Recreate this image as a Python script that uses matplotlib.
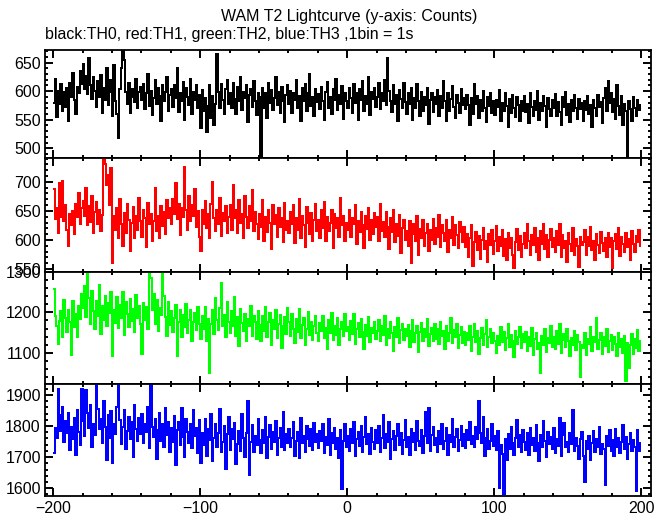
import numpy as np
import matplotlib
matplotlib.use("Agg")
import matplotlib.pyplot as plt
from matplotlib.ticker import MultipleLocator

plt.rcParams['font.family'] = ['Liberation Sans', 'DejaVu Sans']

title = "WAM T2 Lightcurve (y-axis: Counts)"
subtitle = "black:TH0, red:TH1, green:TH2, blue:TH3 ,1bin = 1s"
t_start = -200  # first bin, 1 s per bin

# TH0 (black), counts per 1 s bin (20 bins per row)
th0 = [
    580, 622, 555, 601, 578, 612, 566, 598, 573, 605, 548, 615, 590, 632, 584, 560, 608, 596, 635, 612,
    648, 603, 626, 595, 658, 611, 587, 624, 600, 572, 617, 590, 628, 561, 606, 584, 640, 575, 598, 620,
    556, 645, 582, 560, 518, 603, 640, 672, 655, 598, 578, 615, 562, 603, 590, 581, 622, 570, 598, 607,
    585, 612, 568, 596, 630, 574, 601, 559, 588, 620, 577, 605, 592, 548, 611, 583, 599, 625, 566, 594,
    603, 572, 610, 588, 641, 563, 597, 582, 616, 549, 605, 590, 575, 622, 560, 598, 584, 611, 571, 593,
    536, 602, 565, 588, 528, 574, 610, 553, 592, 541, 578, 665, 598, 570, 612, 585, 560, 603, 620, 577,
    596, 571, 615, 586, 560, 608, 582, 625, 567, 599, 588, 611, 546, 593, 604, 572, 618, 583, 559, 597,
    590, 484, 606, 571, 597, 553, 615, 580, 602, 567, 588, 624, 575, 598, 561, 607, 582, 546, 593, 611,
    578, 601, 562, 596, 585, 619, 570, 592, 548, 605, 583, 612, 566, 597, 630, 574, 589, 556, 603, 581,
    595, 568, 607, 582, 549, 598, 616, 571, 590, 560, 604, 585, 622, 567, 593, 578, 609, 552, 596, 583,
    571, 605, 588, 562, 612, 579, 596, 550, 603, 584, 617, 566, 591, 578, 624, 559, 598, 587, 606, 572,
    589, 614, 568, 597, 583, 620, 575, 658, 601, 582, 563, 610, 577, 594, 547, 602, 586, 570, 615, 581,
    560, 596, 578, 605, 549, 588, 571, 612, 583, 557, 598, 566, 590, 575, 606, 542, 584, 597, 563, 589,
    577, 602, 556, 591, 570, 618, 583, 548, 596, 565, 587, 609, 572, 553, 594, 580, 561, 603, 576, 588,
    569, 594, 575, 540, 588, 560, 612, 578, 592, 553, 585, 566, 600, 571, 546, 589, 574, 597, 562, 583,
    558, 585, 572, 602, 548, 579, 565, 596, 574, 538, 587, 561, 593, 570, 554, 589, 576, 547, 582, 566,
    591, 563, 578, 545, 596, 572, 556, 583, 567, 601, 549, 580, 565, 592, 574, 537, 588, 569, 557, 584,
    570, 595, 556, 581, 564, 540, 589, 573, 598, 559, 577, 546, 584, 566, 593, 571, 552, 587, 568, 579,
    548, 583, 567, 592, 560, 576, 538, 585, 571, 556, 594, 572, 581, 545, 588, 605, 566, 618, 579, 596,
    563, 587, 552, 610, 574, 558, 592, 541, 578, 565, 485, 583, 569, 548, 590, 571, 556, 584, 567, 575,
]

# TH1 (red)
th1 = [
    688, 636, 655, 612, 698, 640, 702, 633, 660, 618, 589, 645, 626, 650, 611, 662, 640, 681, 628, 655,
    667, 642, 690, 625, 658, 631, 675, 612, 648, 666, 627, 652, 615, 643, 738, 730, 694, 712, 660, 723,
    560, 642, 618, 655, 603, 670, 628, 590, 647, 612, 662, 635, 581, 629, 657, 604, 641, 618, 673, 632,
    606, 651, 638, 588, 664, 627, 645, 598, 632, 690, 615, 642, 603, 659, 624, 648, 611, 668, 637, 655,
    627, 671, 644, 698, 636, 662, 609, 655, 640, 725, 652, 618, 675, 633, 660, 641, 688, 623, 650, 606,
    581, 652, 628, 667, 620, 645, 603, 662, 700, 637, 615, 651, 628, 672, 607, 646, 633, 659, 612, 640,
    660, 618, 695, 637, 652, 612, 668, 629, 645, 603, 675, 640, 621, 658, 632, 686, 615, 648, 627, 602,
    645, 623, 668, 598, 639, 614, 652, 630, 585, 661, 627, 643, 606, 655, 622, 638, 596, 664, 617, 633,
    612, 649, 627, 660, 595, 638, 618, 671, 604, 642, 625, 588, 656, 630, 611, 647, 598, 635, 662, 616,
    634, 603, 651, 620, 666, 598, 640, 615, 629, 652, 587, 644, 621, 637, 606, 672, 625, 641, 598, 630,
    618, 652, 605, 638, 627, 661, 594, 633, 614, 648, 626, 587, 642, 619, 655, 600, 634, 611, 646, 623,
    639, 598, 662, 616, 631, 605, 648, 622, 585, 637, 613, 651, 596, 628, 607, 643, 578, 621, 634, 600,
    615, 589, 632, 560, 610, 627, 598, 641, 574, 619, 603, 635, 590, 612, 628, 581, 617, 600, 636, 594,
    621, 606, 643, 588, 625, 612, 598, 634, 579, 617, 603, 640, 592, 625, 608, 586, 631, 614, 597, 622,
    588, 610, 571, 603, 625, 555, 596, 614, 582, 607, 568, 600, 621, 585, 598, 562, 611, 592, 618, 576,
    598, 624, 581, 605, 589, 617, 573, 601, 566, 612, 587, 603, 575, 552, 596, 619, 583, 607, 570, 594,
    612, 586, 628, 598, 575, 609, 592, 621, 580, 603, 566, 615, 594, 627, 585, 608, 571, 600, 619, 588,
    603, 579, 615, 592, 627, 570, 608, 586, 598, 562, 612, 594, 581, 620, 575, 601, 589, 553, 606, 591,
    597, 618, 574, 605, 589, 622, 583, 598, 566, 610, 592, 577, 614, 595, 581, 604, 570, 612, 588, 603,
    552, 598, 611, 585, 620, 573, 606, 594, 579, 612, 588, 601, 565, 615, 593, 580, 607, 596, 618, 589,
]

# TH2 (green)
th2 = [
    1258, 1192, 1165, 1122, 1178, 1203, 1140, 1231, 1186, 1152, 1207, 1175, 1095, 1228, 1164, 1196, 1138, 1215, 1183, 1247,
    1212, 1265, 1188, 1300, 1236, 1171, 1254, 1203, 1158, 1229, 1190, 1268, 1147, 1215, 1180, 1242, 1166, 1224, 1198, 1252,
    1092, 1205, 1173, 1238, 1161, 1219, 1187, 1250, 1144, 1226, 1195, 1164, 1233, 1178, 1208, 1152, 1243, 1186, 1216, 1170,
    1097, 1224, 1182, 1213, 1160, 1300, 1286, 1205, 1247, 1170, 1231, 1154, 1212, 1193, 1300, 1240, 1188, 1142, 1225, 1169,
    1203, 1152, 1187, 1218, 1091, 1176, 1205, 1139, 1194, 1163, 1221, 1148, 1182, 1207, 1130, 1175, 1198, 1157, 1213, 1170,
    1135, 1192, 1160, 1214, 1128, 1183, 1050, 1172, 1205, 1146, 1237, 1180, 1156, 1210, 1272, 1165, 1193, 1139, 1225, 1176,
    1150, 1203, 1167, 1238, 1142, 1188, 1116, 1209, 1173, 1154, 1197, 1128, 1183, 1166, 1215, 1141, 1192, 1175, 1134, 1204,
    1168, 1129, 1190, 1155, 1213, 1140, 1176, 1198, 1120, 1182, 1159, 1205, 1137, 1171, 1193, 1112, 1166, 1188, 1146, 1210,
    1175, 1141, 1196, 1160, 1124, 1183, 1152, 1209, 1136, 1169, 1187, 1118, 1158, 1201, 1143, 1177, 1131, 1166, 1192, 1150,
    1128, 1173, 1155, 1190, 1137, 1162, 1108, 1181, 1149, 1198, 1132, 1167, 1145, 1186, 1120, 1159, 1176, 1141, 1195, 1153,
    1164, 1131, 1178, 1146, 1195, 1122, 1158, 1173, 1138, 1184, 1151, 1110, 1169, 1142, 1188, 1127, 1161, 1149, 1176, 1133,
    1155, 1182, 1128, 1167, 1143, 1191, 1119, 1158, 1136, 1176, 1149, 1105, 1163, 1140, 1185, 1124, 1157, 1171, 1131, 1160,
    1142, 1169, 1113, 1155, 1180, 1127, 1148, 1165, 1102, 1151, 1174, 1130, 1158, 1139, 1183, 1117, 1146, 1162, 1128, 1170,
    1134, 1160, 1121, 1176, 1141, 1153, 1108, 1166, 1129, 1149, 1187, 1123, 1156, 1138, 1170, 1112, 1145, 1163, 1125, 1151,
    1118, 1148, 1132, 1165, 1105, 1140, 1172, 1127, 1153, 1096, 1137, 1161, 1120, 1146, 1180, 1115, 1139, 1158, 1124, 1149,
    1130, 1098, 1142, 1119, 1163, 1126, 1151, 1107, 1136, 1170, 1115, 1143, 1128, 1089, 1155, 1121, 1139, 1164, 1112, 1147,
    1126, 1152, 1104, 1138, 1117, 1162, 1095, 1133, 1148, 1110, 1125, 1050, 1141, 1119, 1158, 1102, 1136, 1123, 1167, 1114,
    1139, 1108, 1153, 1121, 1172, 1099, 1131, 1146, 1115, 1160, 1128, 1092, 1137, 1118, 1155, 1106, 1143, 1127, 1040, 1120,
    1112, 1148, 1095, 1134, 1121, 1163, 1103, 1140, 1127, 1186, 1109, 1132, 1150, 1097, 1138, 1116, 1159, 1101, 1130, 1145,
    1107, 1138, 1122, 1091, 1150, 1115, 1134, 1099, 1142, 1030, 1125, 1063, 1119, 1147, 1096, 1133, 1112, 1156, 1104, 1128,
]

# TH3 (blue)
th3 = [
    1712, 1795, 1760, 1920, 1834, 1785, 1862, 1748, 1815, 1776, 1843, 1722, 1798, 1757, 1826, 1708, 1852, 1781, 1740, 1920,
    1815, 1768, 1915, 1842, 1793, 1866, 1731, 1808, 1770, 1935, 1856, 1789, 1823, 1744, 1880, 1797, 1690, 1834, 1762, 1848,
    1680, 1805, 1775, 1860, 1935, 1818, 1742, 1796, 1851, 1727, 1784, 1830, 1759, 1812, 1700, 1869, 1791, 1752, 1826, 1773,
    1837, 1746, 1808, 1781, 1862, 1729, 1935, 1798, 1765, 1823, 1695, 1788, 1842, 1751, 1806, 1733, 1859, 1770, 1812, 1718,
    1794, 1747, 1831, 1675, 1786, 1812, 1739, 1858, 1764, 1699, 1823, 1781, 1745, 1806, 1728, 1850, 1769, 1792, 1713, 1818,
    1682, 1776, 1739, 1821, 1705, 1790, 1754, 1838, 1688, 1762, 1807, 1731, 1779, 1856, 1716, 1748, 1800, 1663, 1773, 1829,
    1724, 1791, 1757, 1810, 1678, 1742, 1785, 1720, 1840, 1763, 1701, 1777, 1881, 1642, 1749, 1803, 1716, 1768, 1738, 1824,
    1755, 1712, 1786, 1744, 1830, 1698, 1765, 1802, 1727, 1781, 1750, 1815, 1708, 1761, 1793, 1733, 1844, 1722, 1774, 1746,
    1790, 1731, 1763, 1812, 1705, 1752, 1780, 1698, 1827, 1744, 1769, 1717, 1801, 1758, 1735, 1789, 1722, 1811, 1747, 1774,
    1729, 1784, 1751, 1805, 1713, 1766, 1740, 1822, 1707, 1779, 1745, 1795, 1726, 1761, 1698, 1787, 1596, 1752, 1808, 1733,
    1768, 1721, 1790, 1745, 1813, 1702, 1757, 1781, 1735, 1799, 1718, 1765, 1828, 1741, 1774, 1709, 1792, 1750, 1727, 1786,
    1744, 1801, 1716, 1762, 1835, 1729, 1775, 1748, 1812, 1693, 1758, 1785, 1722, 1769, 1806, 1738, 1779, 1711, 1755, 1820,
    1733, 1766, 1708, 1791, 1747, 1776, 1724, 1815, 1752, 1736, 1788, 1712, 1769, 1844, 1745, 1858, 1721, 1772, 1796, 1739,
    1762, 1715, 1784, 1741, 1808, 1727, 1753, 1792, 1706, 1770, 1748, 1823, 1731, 1765, 1790, 1719, 1756, 1801, 1737, 1774,
    1728, 1786, 1755, 1812, 1741, 1769, 1732, 1798, 1758, 1880, 1777, 1745, 1829, 1703, 1762, 1790, 1726, 1751, 1808, 1735,
    1769, 1722, 1784, 1600, 1740, 1711, 1580, 1758, 1692, 1773, 1727, 1797, 1744, 1708, 1762, 1818, 1734, 1771, 1715, 1786,
    1749, 1723, 1778, 1706, 1793, 1738, 1762, 1719, 1804, 1745, 1687, 1771, 1732, 1815, 1753, 1700, 1780, 1741, 1766, 1727,
    1795, 1712, 1758, 1736, 1826, 1704, 1770, 1810, 1732, 1749, 1717, 1776, 1742, 1850, 1719, 1763, 1735, 1695, 1758, 1781,
    1703, 1620, 1752, 1727, 1769, 1692, 1745, 1783, 1716, 1758, 1731, 1797, 1709, 1742, 1725, 1610, 1768, 1737, 1786, 1721,
    1756, 1703, 1790, 1734, 1762, 1712, 1748, 1802, 1726, 1764, 1695, 1741, 1778, 1719, 1755, 1733, 1590, 1788, 1720, 1745,
]

series = [th0, th1, th2, th3]
colors = ["#000000", "#ff0000", "#00ff00", "#0000ff"]
ylims = [(483, 672), (545, 741), (1022, 1300.5), (1575, 1935)]
ymajor = [50, 50, 100, 100]
yminor = [10, 10, 20, 20]

W, H = 669, 515
fig = plt.figure(figsize=(W / 100, H / 100), dpi=100)

left, right = 45 / W, 651 / W
edges_px = [50, 158, 272, 384, 496]

for i, vals in enumerate(series):
    top = 1 - edges_px[i] / H
    bot = 1 - edges_px[i + 1] / H
    ax = fig.add_axes([left, bot, right - left, top - bot])
    edges = t_start + np.arange(len(vals) + 1)
    ax.stairs(vals, edges, baseline=None, color=colors[i], lw=1.1, antialiased=False)
    ax.set_xlim(-205.5, 206.5)
    ax.set_ylim(*ylims[i])
    ax.xaxis.set_major_locator(MultipleLocator(100))
    ax.xaxis.set_minor_locator(MultipleLocator(20))
    ax.yaxis.set_major_locator(MultipleLocator(ymajor[i]))
    ax.yaxis.set_minor_locator(MultipleLocator(yminor[i]))
    ax.tick_params(which="both", direction="in", top=True, right=True, width=1.4, labelsize=11.5)
    ax.tick_params(which="major", length=5.5)
    ax.tick_params(which="minor", length=2.5)
    ax.tick_params(axis="y", pad=3)
    for s in ax.spines.values():
        s.set_linewidth(1.3)
    if i < 3:
        ax.tick_params(axis="x", labelbottom=False)

fig.text(0.522, 1 - 17 / H, title, ha="center", va="center", fontsize=11.5)
fig.text(45 / W, 1 - 35 / H, subtitle, ha="left", va="center", fontsize=11.4)

fig.savefig("out.png", dpi=100)
